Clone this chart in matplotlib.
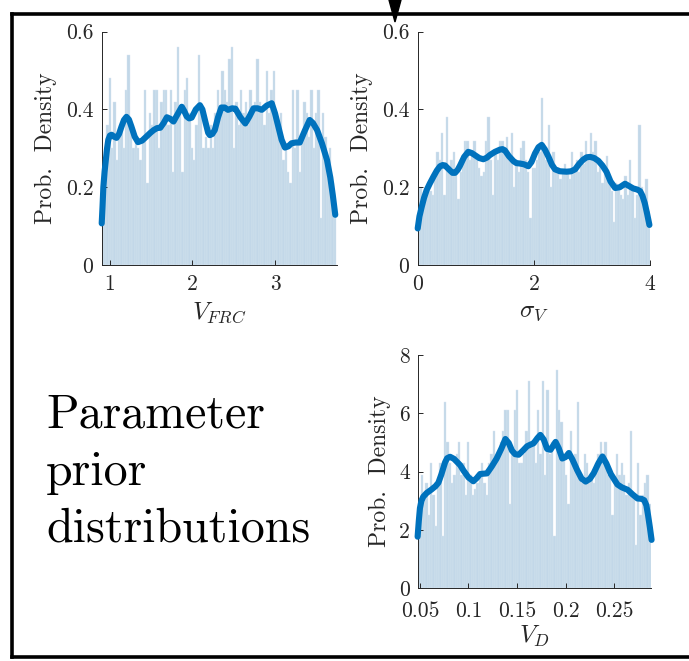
import numpy as np
import matplotlib
matplotlib.use("Agg")
import matplotlib.pyplot as plt
from matplotlib.lines import Line2D
from matplotlib.patches import Polygon

plt.rcParams["font.family"] = ["cmr10", "DejaVu Serif"]
plt.rcParams["mathtext.fontset"] = "cm"
plt.rcParams["axes.formatter.use_mathtext"] = True

# ---------------- data ----------------
# V_FRC: histogram densities (100 bins over the range below) and smoothed density curve
vfrc_range = (0.9, 3.74)
vfrc_hist = [
    0.12, 0.24, 0.36, 0.48, 0.30, 0.42, 0.27, 0.33, 0.36, 0.30,
    0.45, 0.54, 0.36, 0.30, 0.33, 0.30, 0.27, 0.33, 0.45, 0.21,
    0.39, 0.36, 0.45, 0.45, 0.30, 0.42, 0.45, 0.45, 0.36, 0.45,
    0.24, 0.42, 0.56, 0.39, 0.24, 0.45, 0.48, 0.39, 0.30, 0.27,
    0.36, 0.54, 0.39, 0.30, 0.33, 0.30, 0.36, 0.30, 0.39, 0.45,
    0.39, 0.50, 0.45, 0.42, 0.53, 0.56, 0.30, 0.42, 0.36, 0.45,
    0.39, 0.42, 0.36, 0.45, 0.39, 0.42, 0.53, 0.42, 0.39, 0.36,
    0.50, 0.39, 0.45, 0.50, 0.39, 0.36, 0.39, 0.27, 0.30, 0.24,
    0.21, 0.45, 0.30, 0.45, 0.24, 0.33, 0.42, 0.39, 0.33, 0.45,
    0.30, 0.39, 0.45, 0.12, 0.39, 0.33, 0.27, 0.30, 0.21, 0.12,
]
vfrc_kde_x = [0.90, 0.91, 0.92, 0.935, 0.95, 0.965, 0.98, 1.00, 1.02, 1.05,
              1.08, 1.11, 1.14, 1.17, 1.20, 1.23, 1.26, 1.30, 1.34, 1.39,
              1.44, 1.49, 1.53, 1.57, 1.61, 1.65, 1.69, 1.73, 1.77, 1.82,
              1.87, 1.90, 1.93, 1.96, 1.99, 2.04, 2.09, 2.12, 2.16, 2.19,
              2.21, 2.24, 2.27, 2.31, 2.35, 2.39, 2.43, 2.48, 2.52, 2.58,
              2.64, 2.69, 2.74, 2.79, 2.84, 2.90, 2.96, 3.00, 3.04, 3.08,
              3.12, 3.16, 3.20, 3.25, 3.30, 3.36, 3.42, 3.46, 3.51, 3.57,
              3.63, 3.67, 3.70, 3.73]
vfrc_kde_y = [0.107, 0.150, 0.200, 0.240, 0.270, 0.300, 0.322, 0.333, 0.335, 0.330,
              0.327, 0.337, 0.356, 0.373, 0.381, 0.374, 0.356, 0.330, 0.316, 0.320,
              0.330, 0.340, 0.347, 0.352, 0.353, 0.365, 0.380, 0.376, 0.369, 0.388,
              0.407, 0.396, 0.382, 0.377, 0.379, 0.400, 0.411, 0.400, 0.365, 0.340,
              0.334, 0.337, 0.347, 0.380, 0.405, 0.405, 0.399, 0.403, 0.402, 0.380,
              0.364, 0.382, 0.403, 0.403, 0.399, 0.410, 0.416, 0.390, 0.356, 0.322,
              0.302, 0.305, 0.313, 0.315, 0.315, 0.345, 0.373, 0.365, 0.347, 0.312,
              0.270, 0.225, 0.180, 0.129]

# sigma_V
sigv_range = (0.0, 4.0)
sigv_hist = [
    0.20, 0.20, 0.15, 0.17, 0.21, 0.19, 0.18, 0.24, 0.29, 0.27,
    0.34, 0.18, 0.38, 0.24, 0.27, 0.29, 0.24, 0.17, 0.24, 0.26,
    0.32, 0.32, 0.27, 0.29, 0.32, 0.27, 0.25, 0.23, 0.24, 0.32,
    0.38, 0.27, 0.18, 0.29, 0.27, 0.32, 0.32, 0.29, 0.33, 0.27,
    0.34, 0.20, 0.27, 0.24, 0.30, 0.32, 0.27, 0.24, 0.12, 0.25,
    0.25, 0.27, 0.29, 0.43, 0.29, 0.27, 0.36, 0.20, 0.29, 0.24,
    0.25, 0.22, 0.24, 0.26, 0.24, 0.22, 0.29, 0.24, 0.27, 0.24,
    0.29, 0.26, 0.32, 0.27, 0.34, 0.29, 0.32, 0.24, 0.26, 0.21,
    0.24, 0.28, 0.22, 0.19, 0.11, 0.21, 0.20, 0.18, 0.17, 0.23,
    0.18, 0.27, 0.20, 0.12, 0.18, 0.36, 0.20, 0.17, 0.22, 0.14,
]
sigv_kde_x = [0.00, 0.03, 0.07, 0.11, 0.155, 0.21, 0.27, 0.33, 0.385, 0.43,
              0.47, 0.51, 0.557, 0.60, 0.643, 0.69, 0.73, 0.80, 0.87, 0.93,
              0.99, 1.06, 1.13, 1.19, 1.245, 1.33, 1.42, 1.46, 1.50, 1.57,
              1.65, 1.70, 1.76, 1.83, 1.905, 1.96, 2.02, 2.08, 2.135, 2.19,
              2.25, 2.31, 2.365, 2.45, 2.565, 2.64, 2.71, 2.78, 2.85, 2.91,
              2.97, 3.04, 3.11, 3.18, 3.25, 3.32, 3.40, 3.48, 3.57, 3.64,
              3.71, 3.78, 3.83, 3.87, 3.91, 3.95, 3.99]
sigv_kde_y = [0.094, 0.125, 0.150, 0.173, 0.193, 0.210, 0.227, 0.243, 0.254, 0.257,
              0.256, 0.250, 0.243, 0.237, 0.237, 0.245, 0.256, 0.278, 0.291, 0.288,
              0.282, 0.275, 0.272, 0.276, 0.283, 0.291, 0.297, 0.298, 0.295, 0.280,
              0.267, 0.262, 0.261, 0.259, 0.254, 0.265, 0.287, 0.303, 0.309, 0.297,
              0.279, 0.258, 0.246, 0.241, 0.240, 0.241, 0.246, 0.260, 0.271, 0.277,
              0.278, 0.275, 0.268, 0.256, 0.240, 0.215, 0.198, 0.200, 0.209, 0.203,
              0.197, 0.194, 0.190, 0.178, 0.159, 0.132, 0.103]

# V_D
vd_range = (0.0483, 0.288)
vd_hist = [
    2.5, 3.9, 3.2, 3.6, 2.5, 4.3, 3.2, 2.15, 3.6, 4.3,
    1.8, 6.4, 5.0, 4.3, 3.6, 3.9, 4.6, 5.0, 3.9, 4.3,
    3.2, 5.0, 3.9, 3.2, 3.4, 3.6, 3.9, 4.3, 3.6, 3.2,
    4.3, 4.6, 5.4, 4.3, 4.6, 5.0, 5.4, 6.1, 6.1, 2.9,
    4.6, 6.1, 6.8, 4.3, 4.3, 4.6, 5.4, 7.1, 5.0, 5.0,
    4.3, 6.1, 4.6, 7.1, 3.9, 6.8, 4.6, 5.0, 1.8, 7.5,
    6.1, 5.7, 4.6, 3.9, 2.9, 5.4, 4.3, 4.6, 6.4, 3.9,
    3.6, 4.6, 4.3, 3.6, 3.9, 3.6, 4.3, 4.6, 5.0, 4.3,
    5.0, 3.9, 3.9, 2.5, 3.6, 4.6, 3.9, 4.3, 3.9, 3.2,
    3.6, 5.4, 3.2, 1.5, 4.3, 2.5, 3.2, 3.6, 3.9, 2.9,
]
vd_kde_x = [0.0476, 0.0488, 0.0500, 0.0515, 0.0534, 0.0570, 0.0620, 0.0660, 0.0690, 0.0720,
            0.0759, 0.0780, 0.0810, 0.0850, 0.0880, 0.0915, 0.0948, 0.1000, 0.1050, 0.1085,
            0.1120, 0.1190, 0.1240, 0.1290, 0.1340, 0.1380, 0.1415, 0.1448, 0.1480, 0.1517,
            0.1560, 0.1603, 0.1640, 0.1670, 0.1710, 0.1740, 0.1775, 0.1810, 0.1845, 0.1897,
            0.1930, 0.1966, 0.2000, 0.2034, 0.2070, 0.2120, 0.2165, 0.2207, 0.2250, 0.2290,
            0.2340, 0.2380, 0.2420, 0.2466, 0.2534, 0.2580, 0.2638, 0.2690, 0.2741, 0.2780,
            0.2810, 0.2832, 0.2850, 0.2868, 0.2886]
vd_kde_y = [1.77, 2.30, 2.75, 3.00, 3.14, 3.27, 3.39, 3.50, 3.62, 3.90,
            4.32, 4.46, 4.51, 4.44, 4.34, 4.22, 4.04, 3.80, 3.67, 3.78,
            3.92, 3.94, 4.18, 4.45, 4.80, 5.12, 4.98, 4.72, 4.60, 4.58,
            4.72, 4.87, 4.93, 4.97, 5.15, 5.26, 5.10, 4.78, 4.75, 5.02,
            4.80, 4.45, 4.50, 4.64, 4.42, 4.05, 3.76, 3.66, 3.75, 3.95,
            4.30, 4.52, 4.28, 3.92, 3.56, 3.46, 3.38, 3.22, 3.08, 3.07,
            3.02, 2.85, 2.50, 2.10, 1.66]

# axis settings
vfrc_xticks, vfrc_xticklabels = [1, 2, 3], ["1", "2", "3"]
sigv_xticks, sigv_xticklabels = [0, 2, 4], ["0", "2", "4"]
vd_xticks, vd_xticklabels = [0.05, 0.1, 0.15, 0.2, 0.25], ["0.05", "0.1", "0.15", "0.2", "0.25"]
dens_yticks, dens_yticklabels = [0, 0.2, 0.4, 0.6], ["0", "0.2", "0.4", "0.6"]
vd_yticks, vd_yticklabels = [0, 2, 4, 6, 8], ["0", "2", "4", "6", "8"]

caption_lines = ["Parameter", "prior", "distributions"]

BAR_FACE = "#c2d7e8"
BAR_EDGE = "#d9e6f1"
LINE_COLOR = "#0072BD"
AX_COLOR = "#262626"

W, H = 689, 661
fig = plt.figure(figsize=(W / 100, H / 100), dpi=100)


def px_axes(left, top, right, bottom):
    return fig.add_axes([left / W, 1 - bottom / H, (right - left) / W, (bottom - top) / H])


def draw_panel(ax, rng, hist, kx, ky, xlim, ylim, xticks, xtl, yticks, ytl, xlabel,
               xpad=6.5, xlabelpad=5):
    edges = np.linspace(rng[0], rng[1], len(hist) + 1)
    ax.bar(edges[:-1], hist, width=np.diff(edges), align="edge",
           color=BAR_FACE, edgecolor=BAR_EDGE, linewidth=0.3, zorder=1)
    ax.plot(kx, ky, color=LINE_COLOR, lw=4.4, solid_capstyle="round",
            solid_joinstyle="round", zorder=3, clip_on=False)
    ax.set_xlim(*xlim)
    ax.set_ylim(*ylim)
    ax.set_xticks(xticks)
    ax.set_xticklabels(xtl)
    ax.set_yticks(yticks)
    ax.set_yticklabels(ytl)
    for s in ("top", "right"):
        ax.spines[s].set_visible(False)
    for s in ("left", "bottom"):
        ax.spines[s].set_color(AX_COLOR)
        ax.spines[s].set_linewidth(0.7)
    ax.tick_params(direction="in", length=3.5, width=0.7, colors=AX_COLOR,
                   labelsize=15.5, pad=6)
    ax.tick_params(axis="x", pad=xpad)
    ax.set_ylabel("Prob.  Density", fontsize=17, color=AX_COLOR, labelpad=6)
    ax.set_xlabel(xlabel, fontsize=18, color=AX_COLOR, labelpad=xlabelpad)


ax1 = px_axes(101.7, 31.7, 336.5, 265)
draw_panel(ax1, vfrc_range, vfrc_hist, vfrc_kde_x, vfrc_kde_y, (0.9, 3.745), (0, 0.6),
           vfrc_xticks, vfrc_xticklabels, dens_yticks, dens_yticklabels, r"$V_{FRC}$")

ax2 = px_axes(417.7, 31.7, 650, 265)
draw_panel(ax2, sigv_range, sigv_hist, sigv_kde_x, sigv_kde_y, (0, 4), (0, 0.6),
           sigv_xticks, sigv_xticklabels, dens_yticks, dens_yticklabels, r"$\sigma_V$")

ax3 = px_axes(418.3, 355, 651, 588.3)
draw_panel(ax3, vd_range, vd_hist, vd_kde_x, vd_kde_y, (0.0483, 0.288), (0, 8),
           vd_xticks, vd_xticklabels, vd_yticks, vd_yticklabels, r"$V_D$",
           xpad=9.5, xlabelpad=2)

# caption text on the left, one line per baseline
for line, base in zip(caption_lines, [428, 485, 541]):
    fig.text(46 / W, 1 - base / H, line, fontsize=34.5, color="black",
             ha="left", va="baseline", transform=fig.transFigure)

# frame around the panel group (open to the right) and incoming arrow
lw_frame = 2.6
x_left, y_top, y_bot = 11.5 / W, 1 - 14 / H, 1 - 656.5 / H
fig.add_artist(Line2D([x_left, x_left], [y_bot, y_top], color="black", lw=lw_frame,
                      solid_capstyle="projecting", transform=fig.transFigure))
fig.add_artist(Line2D([x_left, 1.01], [y_top, y_top], color="black", lw=lw_frame,
                      solid_capstyle="projecting", transform=fig.transFigure))
fig.add_artist(Line2D([x_left, 1.01], [y_bot, y_bot], color="black", lw=lw_frame,
                      solid_capstyle="projecting", transform=fig.transFigure))
fig.add_artist(Polygon([[389 / W, 1.0], [401 / W, 1.0], [395 / W, 1 - 22 / H]],
                       closed=True, color="black", transform=fig.transFigure))

fig.savefig("out.png", dpi=100)
